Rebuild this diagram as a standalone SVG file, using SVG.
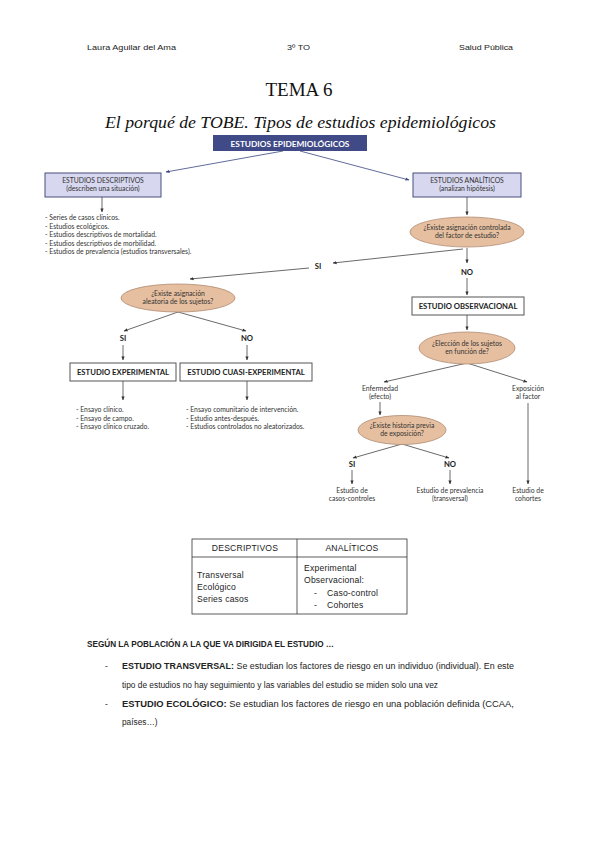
<svg xmlns="http://www.w3.org/2000/svg" width="599" height="848" viewBox="0 0 599 848">
<defs>
<marker id="ah" viewBox="0 0 10 10" refX="9" refY="5" markerWidth="5" markerHeight="5" orient="auto"><path d="M0,1 L10,5 L0,9 z" fill="#333"/></marker>
<marker id="ahb" viewBox="0 0 10 10" refX="9" refY="5" markerWidth="5" markerHeight="5" orient="auto"><path d="M0,1 L10,5 L0,9 z" fill="#3a4580"/></marker>
<style>
.hd{font-family:"Liberation Sans",Arial,sans-serif;font-size:7.5px;fill:#222}
.ttl{font-family:"Liberation Serif","DejaVu Serif",serif;fill:#111}
.d{font-family:"Lato","Open Sans",sans-serif;font-size:6.8px;fill:#333}
.db{font-family:"Lato","Open Sans",sans-serif;font-size:7.7px;font-weight:bold;fill:#222}
.bl{fill:#d7d7ef;stroke:#4a4f7c;stroke-width:1}
.el{fill:#e6bfa0;stroke:#b08b72;stroke-width:0.8}
.wb{fill:#fff;stroke:#555;stroke-width:1}
.cn line{stroke:#444;stroke-width:0.8;marker-end:url(#ah)}
.cn .b{stroke:#3a4580}
.tb{font-family:"Liberation Sans",Arial,sans-serif;font-size:8.6px;fill:#222;letter-spacing:0.2px}
.bt{font-family:"Liberation Sans",Arial,sans-serif;font-size:8.3px;fill:#222}
</style>
</defs>
<rect width="599" height="848" fill="#fff"/>

<g id="header">
<text class="hd" x="87" y="50" textLength="89" lengthAdjust="spacingAndGlyphs">Laura Aguilar del Ama</text>
<text class="hd" x="287" y="50" textLength="23" lengthAdjust="spacingAndGlyphs">3º TO</text>
<text class="hd" x="459" y="50" textLength="54" lengthAdjust="spacingAndGlyphs">Salud Pública</text>
</g>
<g id="title">
<text class="ttl" x="299" y="96" font-size="19" text-anchor="middle">TEMA 6</text>
<text class="ttl" x="105" y="128" font-size="17" font-style="italic" textLength="391" lengthAdjust="spacingAndGlyphs">El porqué de TOBE. Tipos de estudios epidemiológicos</text>
</g>

<g class="cn" id="connectors">
<line class="b" x1="283" y1="151" x2="166" y2="172" style="marker-end:url(#ahb)"/>
<line class="b" x1="300" y1="151" x2="409" y2="180" style="marker-end:url(#ahb)"/>
<line x1="102" y1="197" x2="102" y2="212"/>
<line x1="467" y1="197" x2="467" y2="215"/>
<line x1="463" y1="249" x2="333" y2="263"/>
<line x1="309" y1="268" x2="190" y2="279"/>
<line x1="467" y1="248" x2="467" y2="263"/>
<line x1="467" y1="278" x2="467" y2="295"/>
<line x1="467" y1="315" x2="467" y2="330"/>
<line x1="467" y1="363" x2="384" y2="382"/>
<line x1="467" y1="363" x2="527" y2="382"/>
<line x1="380" y1="402" x2="380" y2="415"/>
<line x1="528" y1="403" x2="528" y2="484"/>
<line x1="402" y1="444" x2="353" y2="458"/>
<line x1="402" y1="444" x2="449" y2="458"/>
<line x1="352" y1="470" x2="352" y2="484"/>
<line x1="450" y1="470" x2="450" y2="484"/>
<line x1="178" y1="312" x2="124" y2="331"/>
<line x1="178" y1="312" x2="246" y2="331"/>
<line x1="123" y1="345" x2="123" y2="360"/>
<line x1="247" y1="345" x2="247" y2="360"/>
<line x1="123" y1="381" x2="123" y2="400"/>
<line x1="247" y1="381" x2="247" y2="400"/>
</g>

<g id="n-epid">
<rect x="213" y="135" width="154" height="16" fill="#3f4a86"/>
<text x="290" y="146.5" text-anchor="middle" style="font-family:Lato,'Open Sans',sans-serif;font-size:8.3px;font-weight:bold;fill:#fff">ESTUDIOS EPIDEMIOLÓGICOS</text>
</g>
<g id="n-desc">
<rect class="bl" x="45" y="173" width="116" height="24"/>
<text class="d" x="103" y="183" text-anchor="middle">ESTUDIOS DESCRIPTIVOS</text>
<text class="d" x="103" y="191" text-anchor="middle">(describen una situación)</text>
</g>
<g id="n-desc-list">
<text class="d" x="45" y="220">- Series de casos clínicos.</text>
<text class="d" x="45" y="228.5">- Estudios ecológicos.</text>
<text class="d" x="45" y="237">- Estudios descriptivos de mortalidad.</text>
<text class="d" x="45" y="245.5">- Estudios descriptivos de morbilidad.</text>
<text class="d" x="45" y="254">- Estudios de prevalencia (estudios transversales).</text>
</g>
<g id="n-anal">
<rect class="bl" x="413" y="173" width="108" height="24"/>
<text class="d" x="467" y="183" text-anchor="middle">ESTUDIOS ANALÍTICOS</text>
<text class="d" x="467" y="191" text-anchor="middle">(analizan hipótesis)</text>
</g>
<g id="n-q1">
<ellipse class="el" cx="467" cy="232" rx="57" ry="15"/>
<text class="d" x="467" y="230" text-anchor="middle">¿Existe asignación controlada</text>
<text class="d" x="467" y="238" text-anchor="middle">del factor de estudio?</text>
</g>
<g id="n-si1"><text class="db" x="318" y="269" text-anchor="middle">SI</text></g>
<g id="n-no1"><text class="db" x="467" y="275" text-anchor="middle">NO</text></g>
<g id="n-obs">
<rect class="wb" x="412" y="297" width="112" height="18"/>
<text class="db" x="468" y="309" text-anchor="middle">ESTUDIO OBSERVACIONAL</text>
</g>
<g id="n-q2">
<ellipse class="el" cx="467" cy="348" rx="48" ry="16"/>
<text class="d" x="467" y="346" text-anchor="middle">¿Elección de los sujetos</text>
<text class="d" x="467" y="354" text-anchor="middle">en función de?</text>
</g>
<g id="n-enf">
<text class="d" x="380" y="391" text-anchor="middle">Enfermedad</text>
<text class="d" x="380" y="399" text-anchor="middle">(efecto)</text>
</g>
<g id="n-exp">
<text class="d" x="528" y="391" text-anchor="middle">Exposición</text>
<text class="d" x="528" y="399" text-anchor="middle">al factor</text>
</g>
<g id="n-q3">
<ellipse class="el" cx="402" cy="430" rx="44" ry="14.5"/>
<text class="d" x="402" y="428" text-anchor="middle">¿Existe historia previa</text>
<text class="d" x="402" y="436" text-anchor="middle">de exposición?</text>
</g>
<g id="n-si3"><text class="db" x="352" y="467" text-anchor="middle">SI</text></g>
<g id="n-no3"><text class="db" x="450" y="467" text-anchor="middle">NO</text></g>
<g id="n-cc">
<text class="d" x="352" y="493" text-anchor="middle">Estudio de</text>
<text class="d" x="352" y="501" text-anchor="middle">casos-controles</text>
</g>
<g id="n-prev">
<text class="d" x="450" y="493" text-anchor="middle">Estudio de prevalencia</text>
<text class="d" x="450" y="501" text-anchor="middle">(transversal)</text>
</g>
<g id="n-coh">
<text class="d" x="528" y="493" text-anchor="middle">Estudio de</text>
<text class="d" x="528" y="501" text-anchor="middle">cohortes</text>
</g>
<g id="n-q4">
<ellipse class="el" cx="178" cy="298" rx="57" ry="14"/>
<text class="d" x="178" y="296" text-anchor="middle">¿Existe asignación</text>
<text class="d" x="178" y="304" text-anchor="middle">aleatoria de los sujetos?</text>
</g>
<g id="n-si4"><text class="db" x="123" y="341" text-anchor="middle">SI</text></g>
<g id="n-no4"><text class="db" x="247" y="341" text-anchor="middle">NO</text></g>
<g id="n-expt">
<rect class="wb" x="70" y="363" width="106" height="18"/>
<text class="db" x="123" y="375" text-anchor="middle">ESTUDIO EXPERIMENTAL</text>
</g>
<g id="n-cuasi">
<rect class="wb" x="180" y="363" width="132" height="18"/>
<text class="db" x="246" y="375" text-anchor="middle">ESTUDIO CUASI-EXPERIMENTAL</text>
</g>
<g id="n-expt-list">
<text class="d" x="76" y="412">- Ensayo clínico.</text>
<text class="d" x="76" y="420.5">- Ensayo de campo.</text>
<text class="d" x="76" y="429">- Ensayo clínico cruzado.</text>
</g>
<g id="n-cuasi-list">
<text class="d" x="186" y="412">- Ensayo comunitario de intervención.</text>
<text class="d" x="186" y="420.5">- Estudio antes-después.</text>
<text class="d" x="186" y="429">- Estudios controlados no aleatorizados.</text>
</g>

<g id="table">
<rect x="192" y="539" width="215" height="75" fill="none" stroke="#333" stroke-width="0.8"/>
<line x1="192" y1="557" x2="407" y2="557" stroke="#333" stroke-width="0.8"/>
<line x1="297" y1="539" x2="297" y2="614" stroke="#333" stroke-width="0.8"/>
<text class="tb" x="245" y="551" text-anchor="middle" font-size="7.8">DESCRIPTIVOS</text>
<text class="tb" x="352" y="551" text-anchor="middle" font-size="7.8">ANALÍTICOS</text>
<text class="tb" x="197" y="578">Transversal</text>
<text class="tb" x="197" y="590">Ecológico</text>
<text class="tb" x="197" y="602">Series casos</text>
<text class="tb" x="304" y="571">Experimental</text>
<text class="tb" x="304" y="583">Observacional:</text>
<text class="tb" x="314" y="596">-</text>
<text class="tb" x="327" y="596">Caso-control</text>
<text class="tb" x="314" y="608">-</text>
<text class="tb" x="327" y="608">Cohortes</text>
</g>

<g id="body">
<text class="bt" x="87" y="647" font-weight="bold" font-size="7.5" textLength="247" lengthAdjust="spacingAndGlyphs" fill="#333">SEGÚN LA POBLACIÓN A LA QUE VA DIRIGIDA EL ESTUDIO …</text>
<text class="bt" x="105" y="669">-</text>
<text class="bt" x="122" y="669" textLength="392" lengthAdjust="spacingAndGlyphs"><tspan font-weight="bold">ESTUDIO TRANSVERSAL:</tspan> Se estudian los factores de riesgo en un individuo (individual). En este</text>
<text class="bt" x="122" y="688" textLength="316" lengthAdjust="spacingAndGlyphs">tipo de estudios no hay seguimiento y las variables del estudio se miden solo una vez</text>
<text class="bt" x="105" y="707">-</text>
<text class="bt" x="122" y="707" textLength="392" lengthAdjust="spacingAndGlyphs"><tspan font-weight="bold">ESTUDIO ECOLÓGICO:</tspan> Se estudian los factores de riesgo en una población definida (CCAA,</text>
<text class="bt" x="122" y="725">países…)</text>
</g>
</svg>
